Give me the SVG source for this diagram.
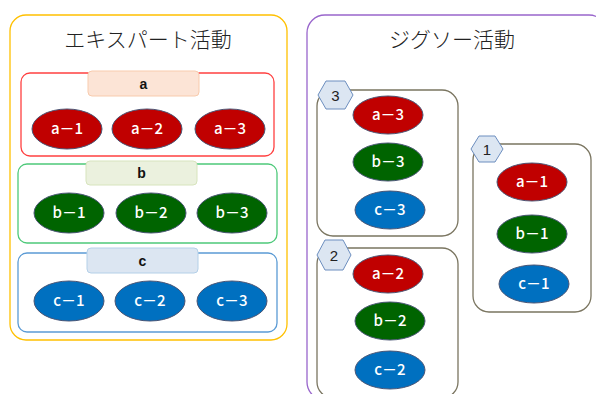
<svg xmlns="http://www.w3.org/2000/svg" width="596" height="394" viewBox="0 0 596 394">
<style>
.t{font-family:"Noto Sans CJK JP","Noto Sans",sans-serif;}
.title{font-size:21px;fill:#222;text-anchor:middle;font-weight:300;}
.lbl{font-family:"Liberation Sans",Arial,sans-serif;font-size:14px;font-weight:bold;fill:#111;text-anchor:middle;}
.el{stroke:#4a5575;stroke-width:1;}
.red{fill:#c00000;}
.grn{fill:#006400;}
.blu{fill:#0070c0;}
.et{font-family:"Noto Sans CJK JP","Noto Sans",sans-serif;font-size:15px;font-weight:500;fill:#fff;text-anchor:middle;}
.grp{fill:#fff;stroke:#7a7560;stroke-width:1.3;}
.hex{fill:#dce6f2;stroke:#6c8ebf;stroke-width:1;}
.hn{font-family:"Liberation Sans",Arial,sans-serif;font-size:15px;fill:#222;text-anchor:middle;}
</style>
<rect width="596" height="394" fill="#fff"/>
<g id="expert">
<rect x="10" y="15" width="277" height="325" rx="16" fill="#fff" stroke="#ffc000" stroke-width="1.3"/>
<text class="t title" x="148" y="47">エキスパート活動</text>
</g>
<g id="group-a">
<rect x="21" y="73" width="253" height="83" rx="9" fill="#fff" stroke="#ff4040" stroke-width="1.3"/>
<rect x="88" y="71" width="111" height="25" rx="4" fill="#fce4d6" stroke="#f8cbad" stroke-width="1"/>
<text class="lbl" x="143.5" y="88.5">a</text>
</g>
<g id="group-b">
<rect x="18" y="164" width="259" height="79" rx="9" fill="#fff" stroke="#4ec97a" stroke-width="1.3"/>
<rect x="86" y="161" width="111" height="24" rx="4" fill="#ebf1de" stroke="#d7e4bd" stroke-width="1"/>
<text class="lbl" x="141.5" y="178">b</text>
</g>
<g id="group-c">
<rect x="18" y="253" width="259" height="79" rx="9" fill="#fff" stroke="#5b9bd5" stroke-width="1.3"/>
<rect x="87" y="248" width="111" height="25" rx="4" fill="#dce6f2" stroke="#b4d0e8" stroke-width="1"/>
<text class="lbl" x="142.5" y="265.5">c</text>
</g>
<g id="ea1"><ellipse class="el red" cx="67" cy="129" rx="35" ry="20"/><text class="et" x="67" y="134">a－1</text></g>
<g id="ea2"><ellipse class="el red" cx="147" cy="129" rx="35" ry="20"/><text class="et" x="147" y="134">a－2</text></g>
<g id="ea3"><ellipse class="el red" cx="230" cy="129" rx="35" ry="20"/><text class="et" x="230" y="134">a－3</text></g>
<g id="eb1"><ellipse class="el grn" cx="69" cy="213" rx="35" ry="20"/><text class="et" x="69" y="218">b－1</text></g>
<g id="eb2"><ellipse class="el grn" cx="151" cy="213" rx="35" ry="20"/><text class="et" x="151" y="218">b－2</text></g>
<g id="eb3"><ellipse class="el grn" cx="232" cy="213" rx="35" ry="20"/><text class="et" x="232" y="218">b－3</text></g>
<g id="ec1"><ellipse class="el blu" cx="69" cy="301" rx="35" ry="20"/><text class="et" x="69" y="306">c－1</text></g>
<g id="ec2"><ellipse class="el blu" cx="150" cy="301" rx="35" ry="20"/><text class="et" x="150" y="306">c－2</text></g>
<g id="ec3"><ellipse class="el blu" cx="232" cy="301" rx="35" ry="20"/><text class="et" x="232" y="306">c－3</text></g>

<g id="jigsaw">
<rect x="307" y="15" width="300" height="385" rx="18" fill="#fff" stroke="#9966cc" stroke-width="1.3"/>
<text class="t title" x="452" y="47">ジグソー活動</text>
</g>
<g id="j3">
<rect class="grp" x="317" y="90" width="141" height="146" rx="16"/>
<polygon class="hex" points="318,95 326,81 345,81 353,95 345,109 326,109"/>
<text class="hn" x="335.5" y="100.5">3</text>
</g>
<g id="j2">
<rect class="grp" x="317" y="248" width="141" height="150" rx="16"/>
<polygon class="hex" points="317,255 325,240 343,240 351,255 343,270 325,270"/>
<text class="hn" x="334" y="260.5">2</text>
</g>
<g id="j1">
<rect class="grp" x="473" y="144" width="118" height="168" rx="16"/>
<polygon class="hex" points="471,149 479,136 495,136 503,149 495,162 479,162"/>
<text class="hn" x="487" y="154.5">1</text>
</g>
<g id="j3a"><ellipse class="el red" cx="388" cy="115" rx="35" ry="19"/><text class="et" x="388" y="120">a－3</text></g>
<g id="j3b"><ellipse class="el grn" cx="388" cy="162" rx="35" ry="19"/><text class="et" x="388" y="167">b－3</text></g>
<g id="j3c"><ellipse class="el blu" cx="390" cy="210" rx="35" ry="19"/><text class="et" x="390" y="215">c－3</text></g>
<g id="j2a"><ellipse class="el red" cx="388" cy="274" rx="35" ry="19"/><text class="et" x="388" y="279">a－2</text></g>
<g id="j2b"><ellipse class="el grn" cx="390" cy="321" rx="35" ry="19"/><text class="et" x="390" y="326">b－2</text></g>
<g id="j2c"><ellipse class="el blu" cx="390" cy="370" rx="35" ry="19"/><text class="et" x="390" y="375">c－2</text></g>
<g id="j1a"><ellipse class="el red" cx="532" cy="182" rx="35" ry="19"/><text class="et" x="532" y="187">a－1</text></g>
<g id="j1b"><ellipse class="el grn" cx="532" cy="234" rx="35" ry="19"/><text class="et" x="532" y="239">b－1</text></g>
<g id="j1c"><ellipse class="el blu" cx="534" cy="284" rx="35" ry="19"/><text class="et" x="534" y="289">c－1</text></g>
</svg>
